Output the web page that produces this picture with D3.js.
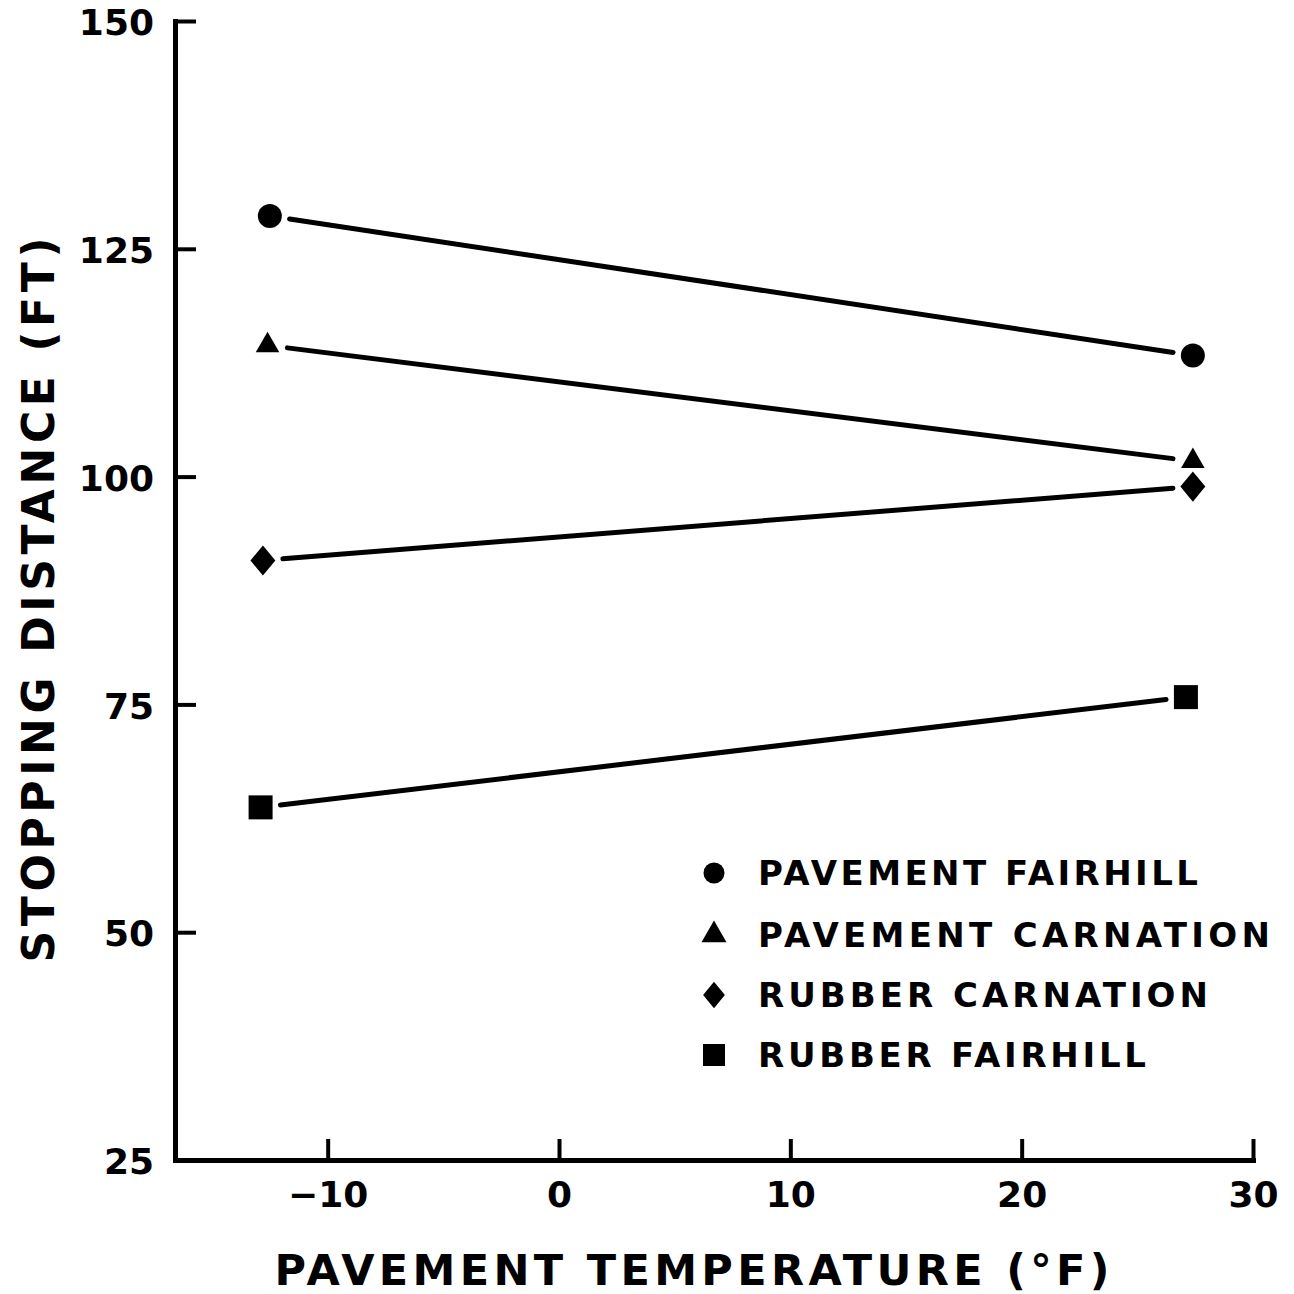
<!DOCTYPE html>
<html>
<head>
<meta charset="utf-8">
<script src="https://d3js.org/d3.v7.min.js"></script>
<style>
  body { margin: 0; background: #fff; }
  svg { display: block; }
  text { font-family: "DejaVu Sans", "Liberation Sans", Arial, sans-serif; font-weight: bold; fill: #000; }
</style>
</head>
<body>
<svg width="1294" height="1294"></svg>
<script>
// series (temperature in F, stopping distance in ft)
var seriesNames = ["PAVEMENT FAIRHILL", "PAVEMENT CARNATION", "RUBBER CARNATION", "RUBBER FAIRHILL"];
var seriesShapes = ["circle", "triangle", "diamond", "square"];
var tempLeft = [-12.5, -12.6, -12.8, -12.9];
var tempRight = [27.4, 27.4, 27.4, 27.1];
var distLeft = [128.6, 114.4, 90.8, 63.7];
var distRight = [113.3, 101.7, 98.9, 75.8];

var xTicks = [-10, 0, 10, 20, 30];
var yTicks = [25, 50, 75, 100, 125, 150];

var svg = d3.select("svg");

svg.append("rect").attr("width", 1294).attr("height", 1294).attr("fill", "#fff");

var x = d3.scaleLinear().domain([-16.6, 30]).range([175, 1253]);
var y = d3.scaleLinear().domain([25, 150]).range([1160, 21]);

// diamond a bit wider than d3's own
var diamondShape = {
  draw: function(ctx, size) {
    var h = Math.sqrt(size / (2 * 0.83)), w = h * 0.83;
    ctx.moveTo(0, -h); ctx.lineTo(w, 0); ctx.lineTo(0, h); ctx.lineTo(-w, 0); ctx.closePath();
  }
};
function shapeType(s) {
  if (s == "circle") return d3.symbolCircle;
  if (s == "triangle") return d3.symbolTriangle;
  if (s == "diamond") return diamondShape;
  return d3.symbolSquare;
}
// sizes (areas) for the plot markers
var markSize = { circle: 452, triangle: 240, diamond: 375, square: 576 };
var legendSize = { circle: 346, triangle: 270, diamond: 286, square: 484 };

// axes
var yAxis = d3.axisLeft(y).tickValues(yTicks).tickSize(-21).tickSizeOuter(0).tickPadding(21);
var xAxis = d3.axisBottom(x).tickValues(xTicks).tickSize(-21).tickSizeOuter(0).tickPadding(20);

var gy = svg.append("g").attr("transform", "translate(175,0)").call(yAxis);
var gx = svg.append("g").attr("transform", "translate(0,1160)").call(xAxis);

[gy, gx].forEach(function(g) {
  g.select(".domain").attr("stroke-width", 5).attr("stroke-linecap", "square");
  g.selectAll(".tick line").attr("stroke-width", 4);
  g.selectAll(".tick text")
    .style("font-family", "'DejaVu Sans', 'Liberation Sans', Arial, sans-serif")
    .style("font-weight", "bold")
    .style("font-size", "36px")
    .attr("fill", "#000");
});
gy.selectAll(".tick text").attr("dy", "0.38em");
gx.selectAll(".tick text").attr("dy", "0.75em");

// lines, trimmed so they stop short of the markers
var lines = svg.append("g");
seriesNames.forEach(function(name, i) {
  var x1 = x(tempLeft[i]), y1 = y(distLeft[i]);
  var x2 = x(tempRight[i]), y2 = y(distRight[i]);
  var len = Math.sqrt((x2 - x1) * (x2 - x1) + (y2 - y1) * (y2 - y1));
  var ux = (x2 - x1) / len, uy = (y2 - y1) / len;
  var gap = 20;
  lines.append("line")
    .attr("x1", x1 + ux * gap).attr("y1", y1 + uy * gap)
    .attr("x2", x2 - ux * gap).attr("y2", y2 - uy * gap)
    .attr("stroke", "#000")
    .attr("stroke-width", 5)
    .attr("stroke-linecap", "round");
});

// markers
var pts = [];
seriesNames.forEach(function(name, i) {
  pts.push({ s: seriesShapes[i], t: tempLeft[i], d: distLeft[i] });
  pts.push({ s: seriesShapes[i], t: tempRight[i], d: distRight[i] });
});
svg.append("g").selectAll("path")
  .data(pts)
  .enter().append("path")
    .attr("transform", function(d) { return "translate(" + x(d.t) + "," + y(d.d) + ")"; })
    .attr("d", function(d) { return d3.symbol().type(shapeType(d.s)).size(markSize[d.s])(); })
    .attr("fill", "#000");

// legend
var legendY = [873, 935, 995, 1055];
var legendWidths = [440, 512, 450, 388];
var legend = svg.append("g");
seriesNames.forEach(function(name, i) {
  legend.append("path")
    .attr("transform", "translate(714," + legendY[i] + ")")
    .attr("d", d3.symbol().type(shapeType(seriesShapes[i])).size(legendSize[seriesShapes[i]])())
    .attr("fill", "#000");
  legend.append("text")
    .attr("x", 758)
    .attr("y", legendY[i] + 12)
    .attr("font-size", 34)
    .attr("textLength", legendWidths[i])
    .attr("lengthAdjust", "spacing")
    .text(name);
});

// axis titles
svg.append("text")
  .attr("x", 692)
  .attr("y", 1285)
  .attr("text-anchor", "middle")
  .attr("font-size", 43)
  .attr("textLength", 835)
  .attr("lengthAdjust", "spacing")
  .text("PAVEMENT TEMPERATURE (°F)");

svg.append("text")
  .attr("transform", "translate(54,600) rotate(-90)")
  .attr("text-anchor", "middle")
  .attr("font-size", 44)
  .attr("textLength", 725)
  .attr("lengthAdjust", "spacing")
  .text("STOPPING DISTANCE (FT)");
</script>
</body>
</html>
